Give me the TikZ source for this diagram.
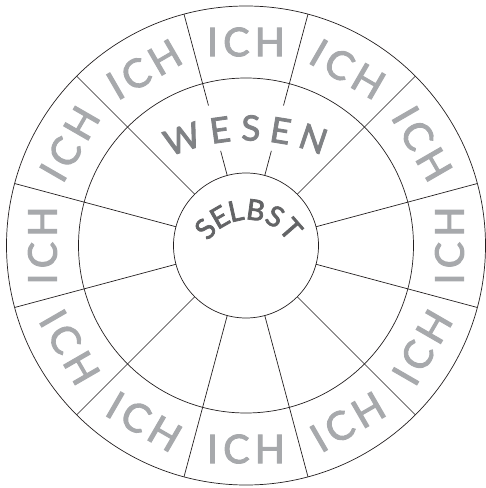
\documentclass[tikz,border=0pt]{standalone}
\usepackage{fontspec}
\setmainfont{Lato}
\newfontfamily\ichfont{Lato}[LetterSpace=13, FakeBold=2.5]
\newfontfamily\wortfont{Lato}[FakeBold=2.5]
\usepackage{xcolor}
\usetikzlibrary{calc}
\definecolor{ichgrau}{HTML}{A7A9AC}
\definecolor{wesengrau}{HTML}{808285}
\definecolor{selbstgrau}{HTML}{636466}
\definecolor{linie}{HTML}{231F20}
\tikzstyle{ring} = [draw=linie, line width=0.7pt]
\tikzstyle{ich} = [text=ichgrau, inner sep=0pt, font=\ichfont\fontsize{39.5}{40}\selectfont]
\tikzstyle{wesen} = [text=wesengrau, inner sep=0pt, font=\wortfont\fontsize{35}{36}\selectfont]
\tikzstyle{selbst} = [text=selbstgrau, inner sep=0pt, font=\wortfont\fontsize{28.5}{29}\selectfont]

\begin{document}
\begin{tikzpicture}[x=1pt, y=1pt]
    \useasboundingbox (-246,-242.5) rectangle (240,245.5);
    \coordinate (mitte) at (0,0);

    % Ringe
    \draw [ring] (mitte) circle (239.5);
    \draw [ring] (mitte) circle (167.5);
    \draw [ring] (mitte) circle (72.5);

    % Speichen
    \foreach \w in {15,45,135,165,195,225,255,285,315,345}
        \draw [ring] (\w:72.5) -- (\w:239.5);
    % die zwei oberen Speichen mit Luecke fuer WESEN
    \foreach \w in {75,105} {
        \draw [ring] (\w:72.5) -- (\w:98);
        \draw [ring] (\w:145) -- (\w:239.5);
    }

    % ICH im Aussenring
    \foreach \w in {30,60,...,360} {
        \pgfmathsetmacro\dreh{\w<181 ? \w-90 : \w+90}
        \node [ich, rotate=\dreh] (ich-\w) at (\w:203.5) {ICH};
    }

    % WESEN
    \coordinate (wz) at (2,-86.5);
    \foreach \z/\w [count=\i] in {W/108.8, E/97.9, S/89.2, E/80.8, N/71.3}
        \node [wesen, rotate=\w-90] (wesen-\i) at ($(wz)+(\w:204)$) {\z};

    % SELBST
    \coordinate (sz) at (2,-21);
    \foreach \z/\w [count=\i] in {S/138.5, E/119.9, L/102.5, B/82.2, S/61.5, T/41.1}
        \node [selbst, rotate=\w-90] (selbst-\i) at ($(sz)+(\w:57)$) {\z};

\end{tikzpicture}
\end{document}
